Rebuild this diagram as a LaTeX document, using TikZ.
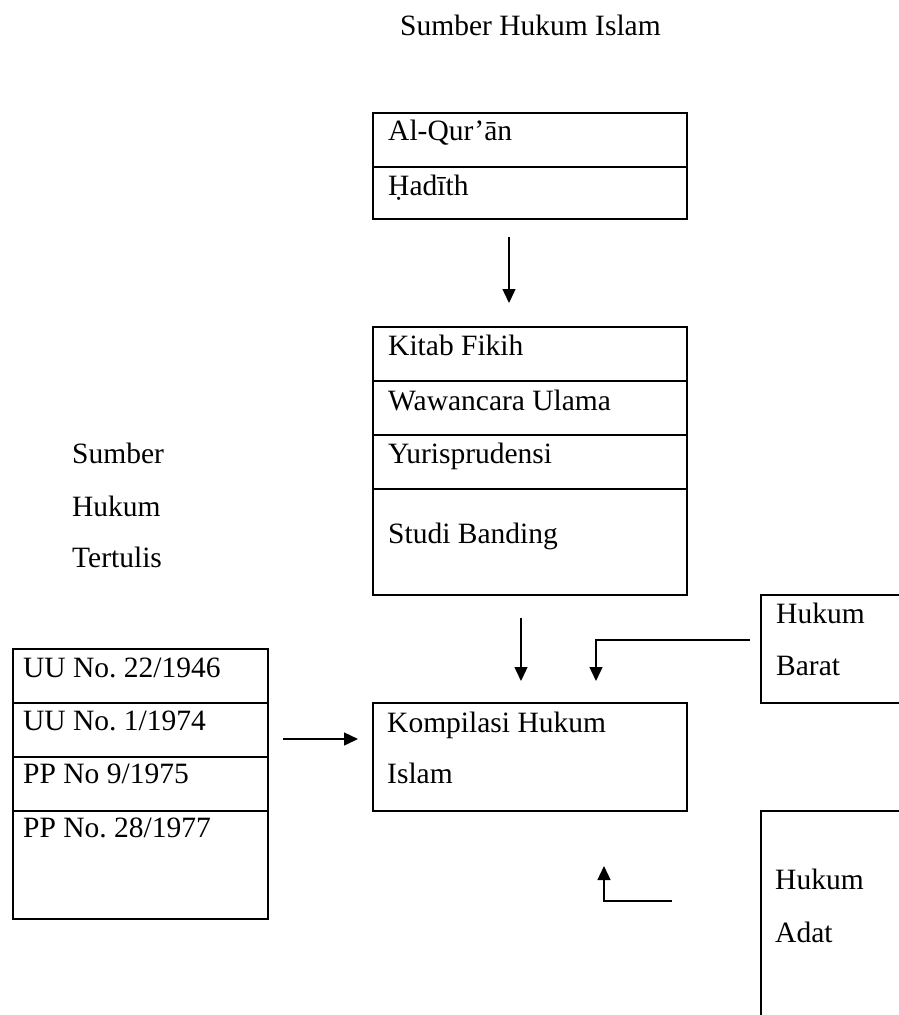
\documentclass[tikz,border=0pt]{standalone}
\usepackage{fontspec}
\setmainfont{Liberation Serif}
\usetikzlibrary{arrows.meta}
\frenchspacing
\newcommand\dfs{\fontsize{29.5}{35}\selectfont}
\begin{document}
\begin{tikzpicture}[x=1pt,y=-1pt,
  box/.style={draw, line width=2pt, inner sep=0pt, outer sep=0pt, rectangle, anchor=north west},
  divider/.style={line width=2pt},
  lbl/.style={anchor=base west, inner sep=0pt, font=\dfs},
  arr/.style={line width=1.4pt, -{Triangle[length=14pt,width=13pt]}}]
\useasboundingbox (0,0) rectangle (899,1015);
\clip (0,0) rectangle (899,1015);
% title
\node[lbl] (title) at (400,35) {Sumber Hukum Islam};
% top box
\node[box, minimum width=314pt, minimum height=106pt] (quran) at (373,113) {};
\draw[divider] (373,167) -- (687,167);
\node[lbl] (t1) at (388,140) {Al-Qur’ān};
\node[lbl] (t2) at (388,195) {Ḥadīth};
% middle box
\node[box, minimum width=314pt, minimum height=268pt] (fikih) at (373,327) {};
\draw[divider] (373,381) -- (687,381);
\draw[divider] (373,435) -- (687,435);
\draw[divider] (373,489) -- (687,489);
\node[lbl] (m1) at (388,355) {Kitab Fikih};
\node[lbl] (m2) at (388,410) {Wawancara Ulama};
\node[lbl] (m3) at (388,463) {Yurisprudensi};
\node[lbl] (m4) at (388,543) {Studi Banding};
% left text
\node[lbl] (s1) at (72,463) {Sumber};
\node[lbl] (s2) at (72,516) {Hukum};
\node[lbl] (s3) at (72,567) {Tertulis};
% left box
\node[box, minimum width=255pt, minimum height=270pt] (uu) at (13,649) {};
\draw[divider] (13,703) -- (268,703);
\draw[divider] (13,757) -- (268,757);
\draw[divider] (13,811) -- (268,811);
\node[lbl] (u1) at (23,677) {UU No. 22/1946};
\node[lbl] (u2) at (23,730) {UU No. 1/1974};
\node[lbl] (u3) at (23,783) {PP No 9/1975};
\node[lbl] (u4) at (23,837) {PP No. 28/1977};
% kompilasi box
\node[box, minimum width=314pt, minimum height=108pt] (khi) at (373,703) {};
\node[lbl] (k1) at (387,732) {Kompilasi Hukum};
\node[lbl] (k2) at (387,783) {Islam};
% hukum barat (cut by page edge)
\node[box, minimum width=170pt, minimum height=108pt] (barat) at (761,595) {};
\node[lbl] (b1) at (776,623) {Hukum};
\node[lbl] (b2) at (776,675) {Barat};
% hukum adat (cut by page edge)
\node[box, minimum width=170pt, minimum height=240pt] (adat) at (761,811) {};
\node[lbl] (d1) at (775,889) {Hukum};
\node[lbl] (d2) at (775,942) {Adat};
% arrows
\coordinate (a1s) at (509,237); \coordinate (a1e) at (509,303);
\draw[arr] (a1s) -- (a1e);
\coordinate (a2s) at (521,618); \coordinate (a2e) at (521,681);
\draw[arr] (a2s) -- (a2e);
\coordinate (a3s) at (750,640); \coordinate (a3e) at (596,681);
\draw[arr] (a3s) -| (a3e);
\coordinate (a4s) at (672,901); \coordinate (a4e) at (604,866);
\draw[arr] (a4s) -| (a4e);
\coordinate (a5s) at (283,739); \coordinate (a5e) at (358,739);
\draw[arr] (a5s) -- (a5e);
\end{tikzpicture}
\end{document}
